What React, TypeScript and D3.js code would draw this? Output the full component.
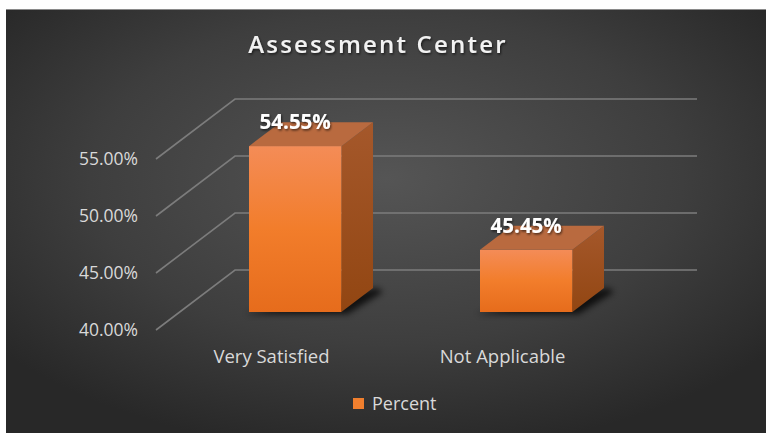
import React from "react";
import * as d3 from "d3";

const categories = ["Very Satisfied", "Not Applicable"];
const values = [0.5455, 0.4545];
const tickValues = [0.4, 0.45, 0.5, 0.55];
const seriesName = "Percent";
const title = "Assessment Center";

const W = 766, H = 433;
const DX = 79, DY = -60; // depth vector
const front = { x0: 156, x1: 618 };
const y = d3.scaleLinear().domain([0.4, 0.55]).range([330, 159]);
const x = d3.scaleBand<string>().domain(categories).range([front.x0, front.x1]).padding(0);
const fmt = d3.format(".2%");
const T0 = 0.3, T1 = 0.7;
const font = "'Open Sans', sans-serif";

export default function App() {
  const bw = x.bandwidth() * 0.4;
  return (
    <svg width={W} height={H} style={{ position: "absolute", left: 0, top: 0 }}>
      <defs>
        <radialGradient id="bg" cx="0.5" cy="0.4" r="0.65">
          <stop offset="0" stopColor="#555555" />
          <stop offset="0.6" stopColor="#3e3e3e" />
          <stop offset="1" stopColor="#282828" />
        </radialGradient>
        <linearGradient id="frontG" x1="0" y1="0" x2="0" y2="1">
          <stop offset="0" stopColor="#f48c57" />
          <stop offset="0.5" stopColor="#f27d2b" />
          <stop offset="1" stopColor="#e66c1c" />
        </linearGradient>
        <linearGradient id="sideG" x1="0" y1="0" x2="0" y2="1">
          <stop offset="0" stopColor="#a5582b" />
          <stop offset="1" stopColor="#924612" />
        </linearGradient>
        <filter id="blur" x="-50%" y="-50%" width="200%" height="200%">
          <feGaussianBlur stdDeviation="3" />
        </filter>
        <filter id="tshadow" x="-20%" y="-20%" width="140%" height="140%">
          <feDropShadow dx="1" dy="1.5" stdDeviation="1" floodColor="#000" floodOpacity="0.6" />
        </filter>
      </defs>
      <rect x={0} y={0} width={W} height={H} fill="#ffffff" />
      <rect x={6} y={9} width={W - 6} height={H - 9} fill="url(#bg)" />
      <line x1={6} x2={W} y1={9.5} y2={9.5} stroke="#8a8a8a" strokeWidth={1} />
      <text x={378} y={53} textAnchor="middle" fill="#f2f2f2" fontFamily={font} fontWeight={600}
        fontSize={24} letterSpacing={2.2} filter="url(#tshadow)">{title}</text>
      {/* gridlines: side wall + back wall */}
      {tickValues.map((v) => (
        <polyline key={v}
          points={`${front.x0},${y(v)} ${front.x0 + DX},${y(v) + DY} ${front.x1 + DX},${y(v) + DY}`}
          fill="none" stroke="#7c7c7c" strokeWidth={1.6} />
      ))}
      {tickValues.map((v) => (
        <text key={"t" + v} x={138} y={y(v)} dy="0.35em" textAnchor="end" fill="#d9d9d9"
          fontFamily={font} fontSize={17.5}>{fmt(v)}</text>
      ))}
      {categories.map((c, i) => {
        const cx = x(c)! + x.bandwidth() / 2;
        const fx0 = cx - bw / 2 + DX * T0;
        const fx1 = cx + bw / 2 + DX * T0;
        const base = y(0.4) + DY * T0;
        const top = y(values[i]) + DY * T0;
        const ddx = DX * (T1 - T0), ddy = DY * (T1 - T0);
        return (
          <g key={c}>
            <polygon
              points={`${fx0 - 4},${base + 2} ${fx1 + 6},${base + 2} ${fx1 + ddx + 10},${base + ddy + 4} ${fx1 + ddx + 4},${base + ddy}`}
              fill="#000" opacity={0.75} filter="url(#blur)" />
            <polygon points={`${fx1},${top} ${fx1 + ddx},${top + ddy} ${fx1 + ddx},${base + ddy} ${fx1},${base}`}
              fill="url(#sideG)" />
            <polygon points={`${fx0},${top} ${fx0 + ddx},${top + ddy} ${fx1 + ddx},${top + ddy} ${fx1},${top}`}
              fill="#b96a3f" />
            <rect x={fx0} y={top} width={fx1 - fx0} height={base - top} fill="url(#frontG)" />
            <text x={(fx0 + fx1) / 2} y={top - 17} textAnchor="middle" fill="#ffffff" fontFamily={font}
              fontWeight={700} fontSize={20.5} filter="url(#tshadow)">{fmt(values[i])}</text>
            <text x={cx} y={363} textAnchor="middle" fill="#d9d9d9" fontFamily={font} fontSize={18.5}>{c}</text>
          </g>
        );
      })}
      <rect x={353} y={398} width={11} height={11} fill="#f07f2e" />
      <text x={372} y={410} fill="#d9d9d9" fontFamily={font} fontSize={18}>{seriesName}</text>
    </svg>
  );
}
